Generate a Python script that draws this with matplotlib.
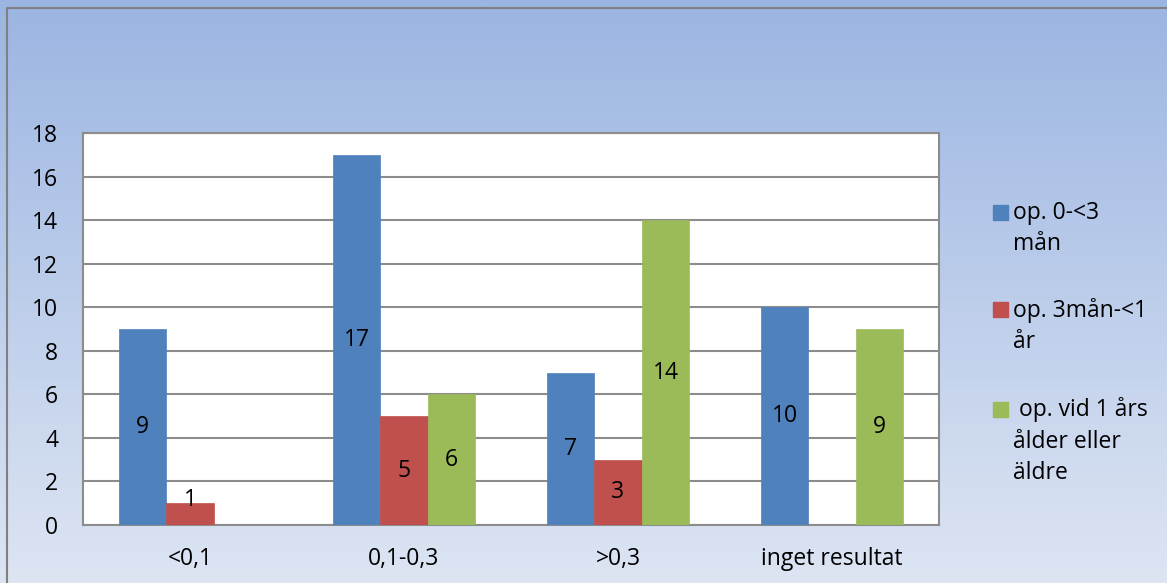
import matplotlib
matplotlib.use("Agg")
import matplotlib.pyplot as plt
import numpy as np
from matplotlib.patches import Rectangle

plt.rcParams['font.family'] = ['Open Sans', 'DejaVu Sans']

categories = ["<0,1", "0,1-0,3", ">0,3", "inget resultat"]
series_names = ["op. 0-<3\nmån", "op. 3mån-<1\når", " op. vid 1 års\nålder eller\näldre"]
blue = [9, 17, 7, 10]
red = [1, 5, 3, 0]
green = [0, 6, 14, 9]
values = [blue, red, green]
colors = ["#4F81BD", "#C0504D", "#9BBB59"]

FS = 16.5
W, H = 1167, 583
fig = plt.figure(figsize=(W / 100, H / 100), dpi=100)

# gradient background
bg = fig.add_axes([0, 0, 1, 1], zorder=-10)
top = np.array([155, 181, 226]) / 255
bot = np.array([221, 229, 243]) / 255
t = np.linspace(0, 1, 256)[:, None]
grad = top[None, :] * (1 - t) + bot[None, :] * t
bg.imshow(grad[:, None, :].repeat(2, axis=1), aspect='auto', extent=[0, 1, 0, 1])
bg.set_xlim(0, 1); bg.set_ylim(0, 1)
bg.axis('off')
# border (top and left visible)
bg.plot([7 / W, 7 / W, 1], [0, 1 - 8 / H, 1 - 8 / H], color="#808080", lw=1.5,
        transform=bg.transAxes, clip_on=False)

x0, x1, y0, y1 = 83, 939, 133, 525
ax = fig.add_axes([x0 / W, 1 - y1 / H, (x1 - x0) / W, (y1 - y0) / H])
ax.set_facecolor("white")

x = np.arange(len(categories))
bw = 0.222
for i, (vals, c) in enumerate(zip(values, colors)):
    pos = x + (i - 1) * bw
    ax.bar(pos, vals, width=bw, color=c, zorder=3, edgecolor=c, linewidth=0.5)
    for p, v in zip(pos, vals):
        if v > 0:
            ax.text(p, max(v / 2, 1.15), str(v), ha='center', va='center',
                    fontsize=FS, color='black', zorder=4)

ax.set_xlim(-0.5, len(categories) - 0.5)
ax.set_ylim(0, 18)
ax.set_yticks(range(0, 19, 2))
ax.set_xticks(x)
ax.set_xticklabels(categories, fontsize=FS)
ax.tick_params(axis='y', labelsize=FS, length=0, pad=18)
ax.tick_params(axis='x', length=0, pad=16)
ax.grid(axis='y', color="#8c8c8c", linewidth=1.5, zorder=1)
for s in ax.spines.values():
    s.set_color("#8c8c8c")
    s.set_linewidth(1.5)

# legend
leg_y = [213, 310, 410]
gap = 31.5
for name, c, ly in zip(series_names, colors, leg_y):
    fig.patches.append(Rectangle((993 / W, 1 - (ly + 7) / H), 15 / W, 15 / H,
                                 transform=fig.transFigure, color=c))
    for k, line in enumerate(name.split("\n")):
        fig.text(1013 / W, 1 - (ly + k * gap) / H, line, fontsize=FS,
                 va='center', ha='left')

fig.savefig("out.png", dpi=100)
